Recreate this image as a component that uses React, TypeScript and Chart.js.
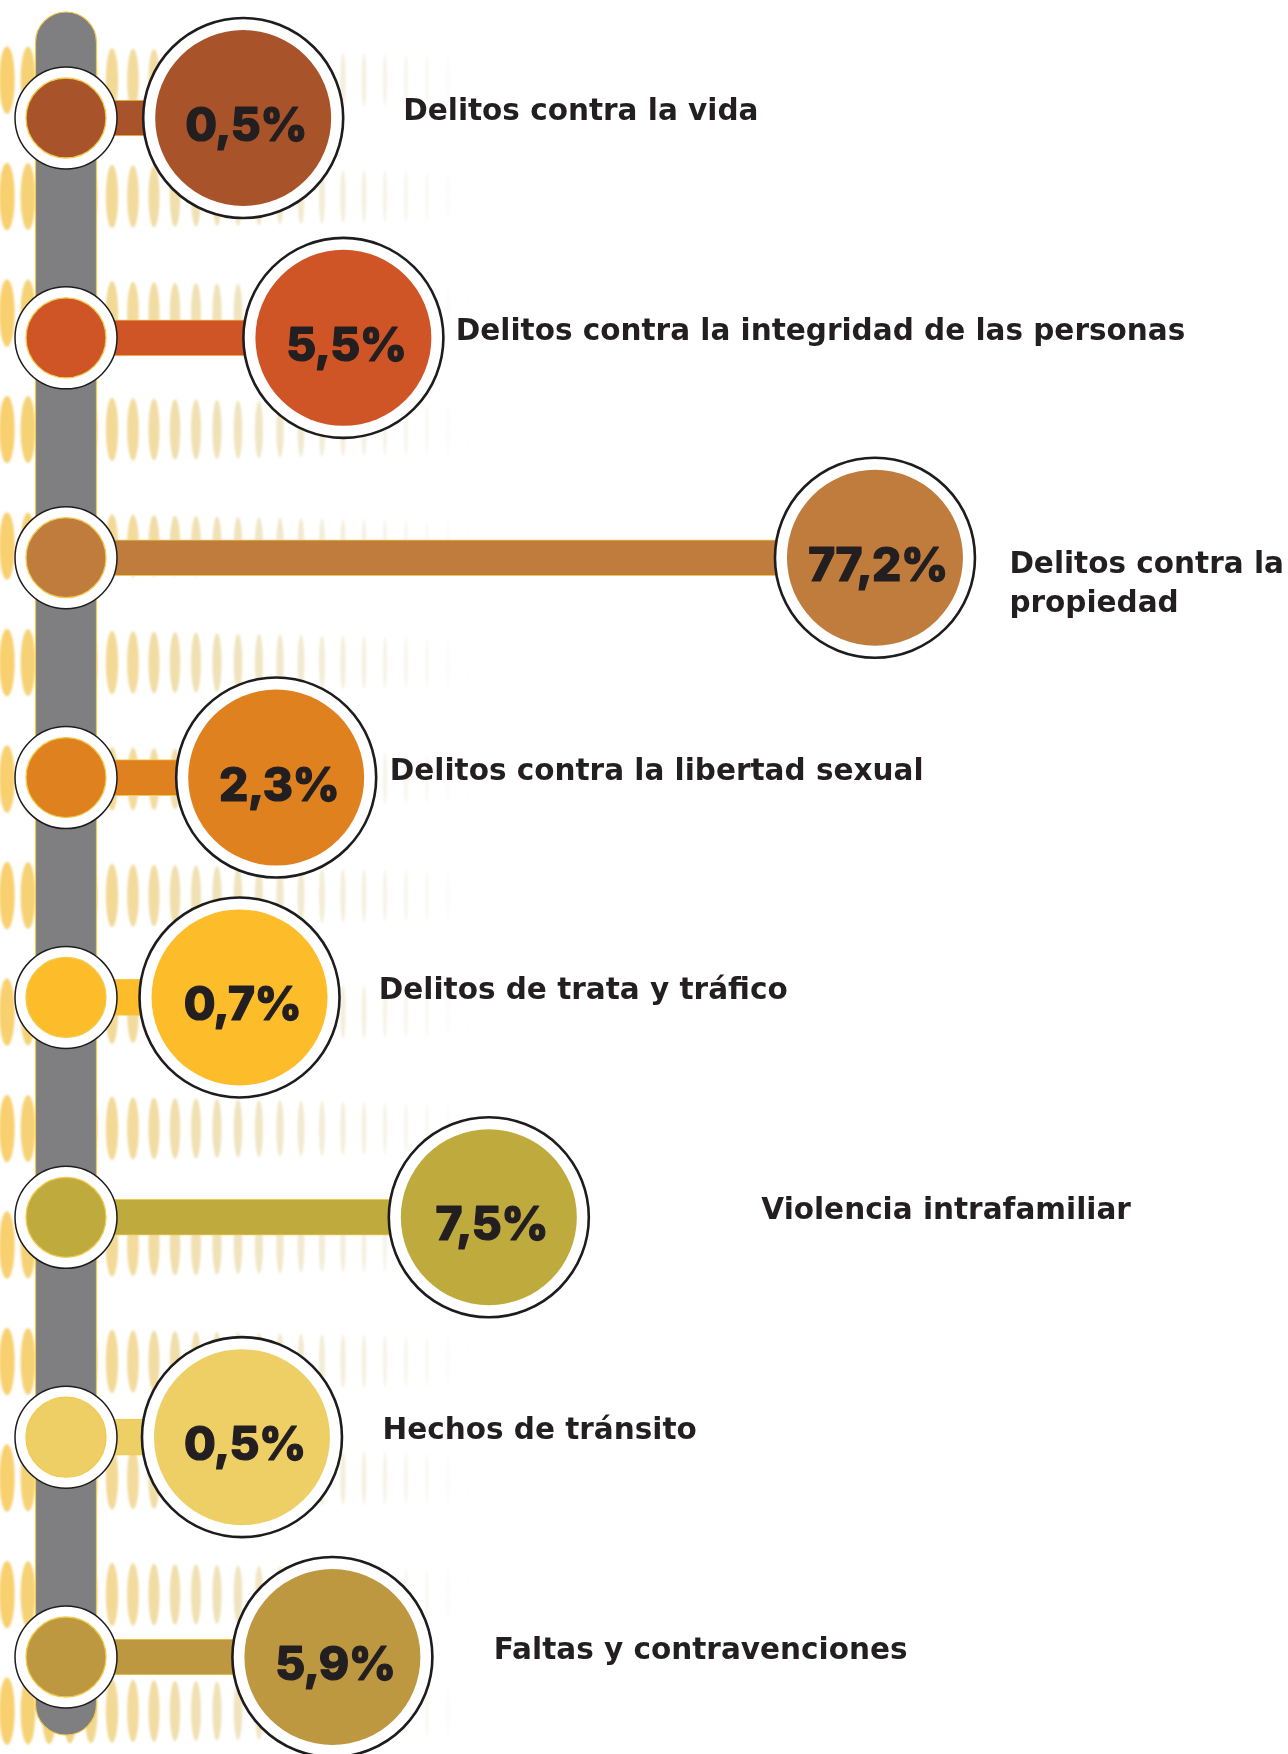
import React, { useEffect, useRef } from "react";
import { Chart, registerables } from "chart.js";

Chart.register(...registerables);

// ---- data ----
const categories = [
  "Delitos contra la vida",
  "Delitos contra la integridad de las personas",
  "Delitos contra la propiedad",
  "Delitos contra la libertad sexual",
  "Delitos de trata y tráfico",
  "Violencia intrafamiliar",
  "Hechos de tránsito",
  "Faltas y contravenciones",
];
const labelLines = [
  ["Delitos contra la vida"],
  ["Delitos contra la integridad de las personas"],
  ["Delitos contra la", "propiedad"],
  ["Delitos contra la libertad sexual"],
  ["Delitos de trata y tráfico"],
  ["Violencia intrafamiliar"],
  ["Hechos de tránsito"],
  ["Faltas y contravenciones"],
];
const percentText = ["0,5%", "5,5%", "77,2%", "2,3%", "0,7%", "7,5%", "0,5%", "5,9%"];
// how far each connector reaches along the (hidden) x axis
const barReach = [14.5, 22.7, 66.2, 17.2, 14.2, 34.6, 14.4, 21.8];
// where each label starts along the x axis
const labelAt = [27.6, 31.9, 77.2, 26.5, 25.6, 56.9, 25.9, 35.0];
const colors = [
  "#A9532A",
  "#CF5527",
  "#BF7C3D",
  "#E0811F",
  "#FDBC2A",
  "#BFAA3E",
  "#EECF66",
  "#BD9841",
];

const TEXT = "#231F20";

const backgroundPlugin = {
  id: "bgPattern",
  beforeDraw(chart: any) {
    const { ctx, width, height } = chart;
    ctx.save();
    ctx.fillStyle = "#ffffff";
    ctx.fillRect(0, 0, width, height);
    ctx.filter = "blur(1.2px)";
    const maxX = 480;
    for (let cx = 7; cx < maxX; cx += 21) {
      const t = cx / maxX;
      const alpha = Math.max(0, 0.95 * Math.pow(1 - t, 0.9));
      const rx = Math.max(0.8, 7 * (1 - t) + 0.8);
      const ry = 34 - 10 * t;
      const r = Math.round(248 - 45 * t);
      const g = Math.round(205 - 5 * t);
      const b = Math.round(100 + 60 * t);
      ctx.fillStyle = `rgba(${r},${g},${b},${alpha})`;
      for (let cy = 80 - 116.5; cy < height + 60; cy += 116.5) {
        ctx.beginPath();
        ctx.ellipse(cx, cy, rx, ry, 0, 0, Math.PI * 2);
        ctx.fill();
      }
    }
    ctx.restore();
  },
  beforeDatasetsDraw(chart: any) {
    const { ctx, scales } = chart;
    const x0 = scales.x.getPixelForValue(0);
    const yTop = scales.y.getPixelForValue(0) - 106;
    const yBot = scales.y.getPixelForValue(categories.length - 1) + 78;
    const w = 61;
    ctx.save();
    ctx.beginPath();
    ctx.roundRect(x0 - w / 2, yTop, w, yBot - yTop, w / 2);
    ctx.fillStyle = "#7F7F81";
    ctx.fill();
    ctx.lineWidth = 1.2;
    ctx.strokeStyle = "#EFC84C";
    ctx.stroke();
    ctx.restore();
  },
};

const textPlugin = {
  id: "texts",
  afterDatasetsDraw(chart: any) {
    const { ctx, scales } = chart;
    ctx.save();
    ctx.fillStyle = TEXT;
    ctx.strokeStyle = TEXT;
    ctx.lineJoin = "round";
    categories.forEach((_, i) => {
      const cx = scales.x.getPixelForValue(barReach[i]);
      const cy = scales.y.getPixelForValue(i);
      ctx.font = "800 46px Inter, sans-serif";
      (ctx as any).letterSpacing = "-0.5px";
      ctx.textAlign = "center";
      ctx.textBaseline = "alphabetic";
      ctx.lineWidth = 1.2;
      ctx.fillText(percentText[i], cx + 3, cy + 23);
      ctx.strokeText(percentText[i], cx + 3, cy + 23);

      const lx = scales.x.getPixelForValue(labelAt[i]);
      const lines = labelLines[i];
      ctx.font = "bold 29.5px 'DejaVu Sans'";
      (ctx as any).letterSpacing = "0px";
      ctx.textAlign = "left";
      const first = cy + 2 + (lines.length - 1) * 13;
      lines.forEach((ln, k) => {
        ctx.fillText(ln, lx, first + k * 39);
      });
    });
    ctx.restore();
  },
};

export default function App() {
  const ref = useRef<HTMLCanvasElement | null>(null);
  useEffect(() => {
    if (!ref.current) return;
    const bigPts = categories.map((c, i) => ({ x: barReach[i], y: c }));
    const smallPts = categories.map((c) => ({ x: 0, y: c }));
    const chart = new Chart(ref.current, {
      type: "bar",
      data: {
        labels: categories,
        datasets: [
          {
            type: "bar",
            data: barReach,
            backgroundColor: colors,
            borderColor: "#EFC84C",
            borderWidth: 1,
            borderSkipped: "start",
            barThickness: 36,
            order: 5,
            clip: false,
          } as any,
          {
            type: "scatter",
            data: bigPts,
            pointRadius: 100,
            pointBackgroundColor: "#ffffff",
            pointBorderColor: "#1E1C1C",
            pointBorderWidth: 2.6,
            order: 4,
            clip: false,
          } as any,
          {
            type: "scatter",
            data: bigPts,
            pointRadius: 88,
            pointBackgroundColor: colors,
            pointBorderWidth: 0,
            order: 3,
            clip: false,
          } as any,
          {
            type: "scatter",
            data: smallPts,
            pointRadius: 51,
            pointBackgroundColor: "#ffffff",
            pointBorderColor: "#1E1C1C",
            pointBorderWidth: 1.5,
            order: 2,
            clip: false,
          } as any,
          {
            type: "scatter",
            data: smallPts,
            pointRadius: 40,
            pointBackgroundColor: colors,
            pointBorderColor: "#F2C94C",
            pointBorderWidth: 1.3,
            order: 1,
            clip: false,
          } as any,
        ],
      },
      options: {
        indexAxis: "y",
        responsive: false,
        animation: false,
        events: [],
        layout: { autoPadding: false, padding: { left: 66, right: 0, top: 118, bottom: 97 } },
        scales: {
          x: { type: "linear", min: 0, max: 100, display: false },
          y: { type: "category", labels: categories, offset: false, display: false },
        },
        plugins: {
          legend: { display: false },
          tooltip: { enabled: false },
        },
      } as any,
      plugins: [backgroundPlugin, textPlugin],
    });
    return () => chart.destroy();
  }, []);
  return (
    <div style={{ position: "absolute", left: 0, top: 0, width: 1288, height: 1754, background: "#fff" }}>
      <canvas ref={ref} width={1288} height={1754} style={{ display: "block" }} />
    </div>
  );
}
